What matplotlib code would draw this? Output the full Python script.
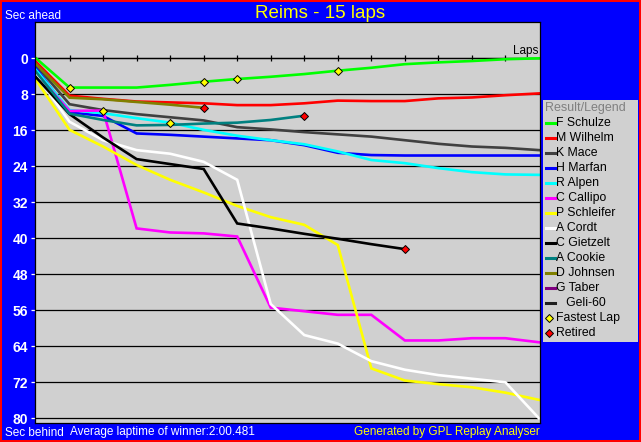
import numpy as np
import matplotlib.pyplot as plt
from matplotlib.patches import Rectangle
from matplotlib.lines import Line2D

plt.rcParams['font.family'] = ['Liberation Sans', 'DejaVu Sans']

# seconds behind the leader after each lap (lap 0 = start)
laps = np.arange(0, 16)
schulze = [0, 6.5, 6.5, 6.5, 5.9, 5.2, 4.6, 4.1, 3.5, 2.75, 2.1, 1.3, 0.9, 0.6, 0.2, 0.0]
wilhelm = [0.8, 8.3, 9.0, 9.6, 9.8, 10.0, 10.4, 10.4, 10.0, 9.4, 9.5, 9.5, 8.9, 8.7, 8.2, 7.8]
mace = [1.5, 10.2, 11.5, 12.4, 13.1, 13.8, 15.3, 15.8, 16.4, 16.9, 17.4, 18.2, 19.0, 19.6, 19.9, 20.4]
marfan = [2.2, 12.0, 12.8, 16.7, 17.0, 17.4, 17.8, 18.2, 19.3, 21.0, 21.5, 21.6, 21.6, 21.6, 21.6, 21.6]
alpen = [2.6, 11.5, 12.2, 13.3, 14.3, 15.9, 17.2, 18.2, 19.1, 20.7, 22.6, 23.3, 24.4, 25.3, 25.8, 25.9]
callipo = [3.3, 11.7, 11.6, 37.8, 38.7, 38.9, 39.6, 55.4, 56.2, 57.0, 57.0, 62.7, 62.7, 62.2, 62.2, 63.1]
schleifer = [4.8, 15.9, 19.6, 23.7, 27.0, 29.8, 32.8, 35.3, 37.0, 41.5, 68.9, 71.6, 72.4, 73.1, 74.3, 75.9]
cordt = [3.7, 14.1, 18.2, 20.4, 21.2, 23.0, 27.0, 54.6, 61.5, 63.4, 67.3, 69.2, 70.4, 71.2, 72.0, 80.0]
gietzelt = [4.2, 12.4, 17.6, 22.4, 23.5, 24.6, 36.7, 37.8, 39.0, 40.1, 41.3, 42.4]
cookie = [3.0, 12.3, 13.7, 14.9, 14.8, 14.5, 14.3, 13.7, 12.75]
johnsen = [1.3, 8.75, 9.1, 9.7, 10.3, 11.0]
taber = []
geli = []

drivers = ['F Schulze', 'M Wilhelm', 'K Mace', 'H Marfan', 'R Alpen', 'C Callipo',
           'P Schleifer', 'A Cordt', 'C Gietzelt', 'A Cookie', 'D Johnsen', 'G Taber', '   Geli-60']
series = [schulze, wilhelm, mace, marfan, alpen, callipo, schleifer, cordt,
          gietzelt, cookie, johnsen, taber, geli]
colors = ['#00ff00', '#ff0000', '#404040', '#0000ff', '#00ffff', '#ff00ff', '#ffff00',
          '#ffffff', '#000000', '#008080', '#808000', '#800080', '#202020']

# fastest lap markers (lap, seconds) and retirements
fastest_lap = [1, 2, 4, 5, 6, 9]
fastest_sec = [6.5, 11.6, 14.3, 5.2, 4.6, 2.75]
retired_lap = [5, 8, 11]
retired_sec = [11.0, 12.75, 42.4]

W, H = 641, 442
fig = plt.figure(figsize=(W / 100, H / 100), dpi=100)
fig.patch.set_facecolor('#0000ff')

ax = fig.add_axes([35 / W, (H - 423) / H, 505 / W, 401 / H])
ax.set_facecolor('#d0d0d0')
for s in ax.spines.values():
    s.set_color('black')
    s.set_linewidth(0.9)

ax.set_xlim(-0.03, 15.03)
ax.set_ylim(81.04, -8.07)
ax.set_xticks([])
ax.set_yticks(np.arange(0, 81, 8))
ax.tick_params(axis='y', colors='white', length=3, width=0.9, pad=2,
               labelsize=10)
for lab in ax.get_yticklabels():
    lab.set_fontweight('bold')
ax.yaxis.grid(True, color='black', linewidth=0.9)
ax.set_axisbelow(True)

# lap axis with small ticks on the zero line
ax.axhline(0, color='black', linewidth=0.9)
ax.plot(laps[1:15], np.zeros(14), linestyle='none', marker='|', markersize=5,
        markeredgewidth=0.9, color='black')
ax.text(0.996, 0.913, 'Laps', transform=ax.transAxes, ha='right', va='bottom',
        fontsize=8.5, color='black')

for vals, c in zip(series, colors):
    if len(vals):
        ax.plot(laps[:len(vals)], vals, color=c, linewidth=1.9, solid_joinstyle='miter')

ax.plot(fastest_lap, fastest_sec, linestyle='none', marker='D', markersize=4,
        markerfacecolor='#ffff00', markeredgecolor='black', markeredgewidth=0.7, zorder=5)
ax.plot(retired_lap, retired_sec, linestyle='none', marker='D', markersize=4,
        markerfacecolor='#ff0000', markeredgecolor='black', markeredgewidth=0.7, zorder=5)

# legend box
lg = fig.add_axes([543 / W, (H - 342) / H, 95 / W, 242 / H])
lg.set_facecolor('#d0d0d0')
lg.set_xlim(0, 95)
lg.set_ylim(242, 0)
lg.set_xticks([])
lg.set_yticks([])
for s in lg.spines.values():
    s.set_visible(False)
lg.text(2, 7.5, 'Result/Legend', color='#808080', fontsize=9, va='center', ha='left')
for i, (name, c) in enumerate(zip(drivers, colors)):
    y = 22.7 + 15 * i
    lg.add_line(Line2D([3, 12], [y, y], color=c, linewidth=2.2))
    lg.text(13, y, name, fontsize=8.8, va='center', ha='left', color='black')
n = len(drivers)
lg.plot([5.7], [22.7 + 15 * n], marker='D', markersize=4, markerfacecolor='#ffff00',
        markeredgecolor='black', markeredgewidth=0.7)
lg.text(13, 22.7 + 15 * n, 'Fastest Lap', fontsize=8.8, va='center', ha='left')
lg.plot([5.7], [22.7 + 15 * (n + 1)], marker='D', markersize=4, markerfacecolor='#ff0000',
        markeredgecolor='black', markeredgewidth=0.7)
lg.text(13, 22.7 + 15 * (n + 1), 'Retired', fontsize=8.8, va='center', ha='left')

# titles and captions
fig.text(320 / W, 1 - 13.7 / H, 'Reims - 15 laps', color='#ffff00', fontsize=13.5,
         ha='center', va='center')
fig.text(5 / W, 1 - 16 / H, 'Sec ahead', color='white', fontsize=8.5, ha='left', va='center')
fig.text(5 / W, 1 - 432.5 / H, 'Sec behind', color='white', fontsize=8.5, ha='left', va='center')
fig.text(70 / W, 1 - 432.5 / H, 'Average laptime of winner:2:00.481', color='white',
         fontsize=8.5, ha='left', va='center')
fig.text(540 / W, 1 - 432.5 / H, 'Generated by GPL Replay Analyser', color='#ffff00',
         fontsize=8.5, ha='right', va='center')

fig.patches.append(Rectangle((0, 0), 1, 1, transform=fig.transFigure, fill=False,
                             edgecolor='#ff0000', linewidth=2.9))

fig.savefig('out.png', dpi=100)
